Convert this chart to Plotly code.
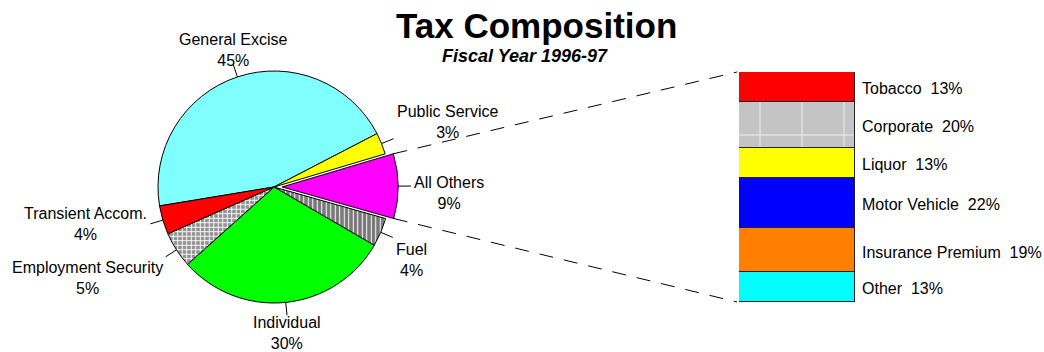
import math
import plotly.graph_objects as go

# ---- data ----
pie_labels = ["General Excise", "Public Service", "All Others", "Fuel",
              "Individual", "Employment Security", "Transient Accom."]
pie_values = [45, 3, 9, 4, 30, 5, 4]
pie_colors = ["#80ffff", "#ffff00", "#ff00ff", "#7a7a7a",
              "#00ff00", "#939393", "#ff0000"]
pie_pull = [0, 0, 0.07, 0, 0, 0, 0]

other_labels = ["Tobacco", "Corporate", "Liquor", "Motor Vehicle",
                "Insurance Premium", "Other"]          # top to bottom
other_values = [13, 20, 13, 22, 19, 13]
other_colors = ["#ff0000", "#c4c4c4", "#ffff00", "#0000ff", "#ff8000", "#00ffff"]

title_text = "Tax Composition"
subtitle_text = "Fiscal Year 1996-97"

# ---- layout geometry (pixels) ----
W, H = 1044, 352
FONT = "Liberation Sans, Arial, sans-serif"
LABEL_SIZE = 16
cx, cy, R = 274, 187, 116            # pie centre / radius
rotation = -99.4                     # clockwise from 12 o'clock
bar_left, bar_right, bar_top, bar_bottom = 739, 855, 72, 302

# small per-label nudges (px) for the pie captions
label_nudge = {"General Excise": (0, 6), "Public Service": (0, 4),
               "All Others": (0, 7), "Fuel": (0, 2), "Individual": (0, -3)}


def px(x):
    return x / W


def py(y):
    return 1 - y / H


max_pull = max(pie_pull)
half_box = R * (1 + max_pull)

fig = go.Figure()

fig.add_trace(go.Pie(
    labels=pie_labels,
    values=pie_values,
    sort=False,
    direction="clockwise",
    rotation=rotation,
    pull=pie_pull,
    textinfo="none",
    hoverinfo="skip",
    showlegend=False,
    marker=dict(
        colors=pie_colors,
        line=dict(color="black", width=1),
        pattern=dict(
            shape=["", "", "", "|", "", "+", ""],
            fgcolor=["white"] * len(pie_values),
            bgcolor=pie_colors,
            size=[8, 8, 8, 4.5, 8, 4.5, 8],
            solidity=[0.3, 0.3, 0.3, 0.22, 0.3, 0.36, 0.3],
        ),
    ),
    domain=dict(x=[px(cx - half_box), px(cx + half_box)],
                y=[py(cy + half_box), py(cy - half_box)]),
))

# stacked bar breaking down "All Others" (drawn bottom-up)
for lab, val, col in reversed(list(zip(other_labels, other_values, other_colors))):
    pattern = None
    if lab == "Corporate":
        pattern = dict(shape="+", fgcolor="white", bgcolor=col, size=42, solidity=0.07)
    fig.add_trace(go.Bar(
        x=[0], y=[val], name=lab,
        marker=dict(color=col, line=dict(color="#222222", width=1.5), pattern=pattern),
        hoverinfo="skip", showlegend=False,
        xaxis="x", yaxis="y",
    ))

annotations = []
shapes = []

# pie labels with leader lines, placed from slice mid-angles
total = sum(pie_values)
cum = 0
for lab, val, pull in zip(pie_labels, pie_values, pie_pull):
    mid = math.radians(rotation + (cum + val / 2) * 360 / total)
    cum += val
    s, c = math.sin(mid), -math.cos(mid)     # screen direction (x, y-down)
    r0 = R * (1 + pull)
    r1 = r0 + 13
    x0, y0 = cx + r0 * s, cy + r0 * c
    x1, y1 = cx + r1 * s, cy + r1 * c
    shapes.append(dict(type="line", xref="paper", yref="paper",
                       x0=px(x0), y0=py(y0), x1=px(x1), y1=py(y1),
                       line=dict(color="black", width=1)))
    xanchor = "left" if s > 0.35 else ("right" if s < -0.35 else "center")
    yanchor = "top" if c > 0.35 else ("bottom" if c < -0.35 else "middle")
    dx, dy = label_nudge.get(lab, (0, 0))
    xoff = 1 if xanchor == "left" else -1 if xanchor == "right" else 0
    annotations.append(dict(
        text=f"{lab}<br>{val}%", xref="paper", yref="paper",
        x=px(x1 + xoff + dx), y=py(y1 + dy),
        xanchor=xanchor, yanchor=yanchor, align="center",
        showarrow=False, font=dict(family=FONT, size=LABEL_SIZE, color="black"),
    ))

# dashed connectors from the pulled slice to the bar
cum = 0
for lab, val, pull in zip(pie_labels, pie_values, pie_pull):
    if pull > 0:
        a0 = math.radians(rotation + cum * 360 / total)
        a1 = math.radians(rotation + (cum + val) * 360 / total)
        am = (a0 + a1) / 2
        ox, oy = pull * R * math.sin(am), -pull * R * math.cos(am)
        for a, yb in ((a0, bar_top), (a1, bar_bottom)):
            xs = cx + ox + R * math.sin(a)
            ys = cy + oy - R * math.cos(a)
            shapes.append(dict(type="line", xref="paper", yref="paper",
                               x0=px(xs), y0=py(ys), x1=px(bar_left - 2), y1=py(yb),
                               line=dict(color="black", width=1, dash="14px,11px")))
    cum += val

# bar segment labels
top = sum(other_values)
for lab, val in zip(other_labels, other_values):
    annotations.append(dict(
        text=f"{lab}\u00a0\u00a0{val}%", xref="paper", yref="y",
        x=px(860), y=top - val / 2 - 0.8, xanchor="left", yanchor="middle",
        showarrow=False, font=dict(family=FONT, size=LABEL_SIZE, color="black"),
    ))
    top -= val

# titles
annotations.append(dict(text=f"<b>{title_text}</b>", xref="paper", yref="paper",
                        x=px(536), y=py(26), xanchor="center", yanchor="middle",
                        showarrow=False, font=dict(family=FONT, size=35, color="black")))
annotations.append(dict(text=f"<b><i>{subtitle_text}</i></b>", xref="paper", yref="paper",
                        x=px(525), y=py(56), xanchor="center", yanchor="middle",
                        showarrow=False, font=dict(family=FONT, size=18, color="black")))

fig.update_layout(
    width=W, height=H,
    margin=dict(l=0, r=0, t=0, b=0),
    paper_bgcolor="white", plot_bgcolor="white",
    barmode="stack", bargap=0,
    hovermode=False,
    xaxis=dict(domain=[px(bar_left), px(bar_right)], range=[-0.5, 0.5],
               visible=False, fixedrange=True),
    yaxis=dict(domain=[py(bar_bottom), py(bar_top)], range=[0, sum(other_values)],
               visible=False, fixedrange=True),
    annotations=annotations,
    shapes=shapes,
)

fig.write_html("out.html")
